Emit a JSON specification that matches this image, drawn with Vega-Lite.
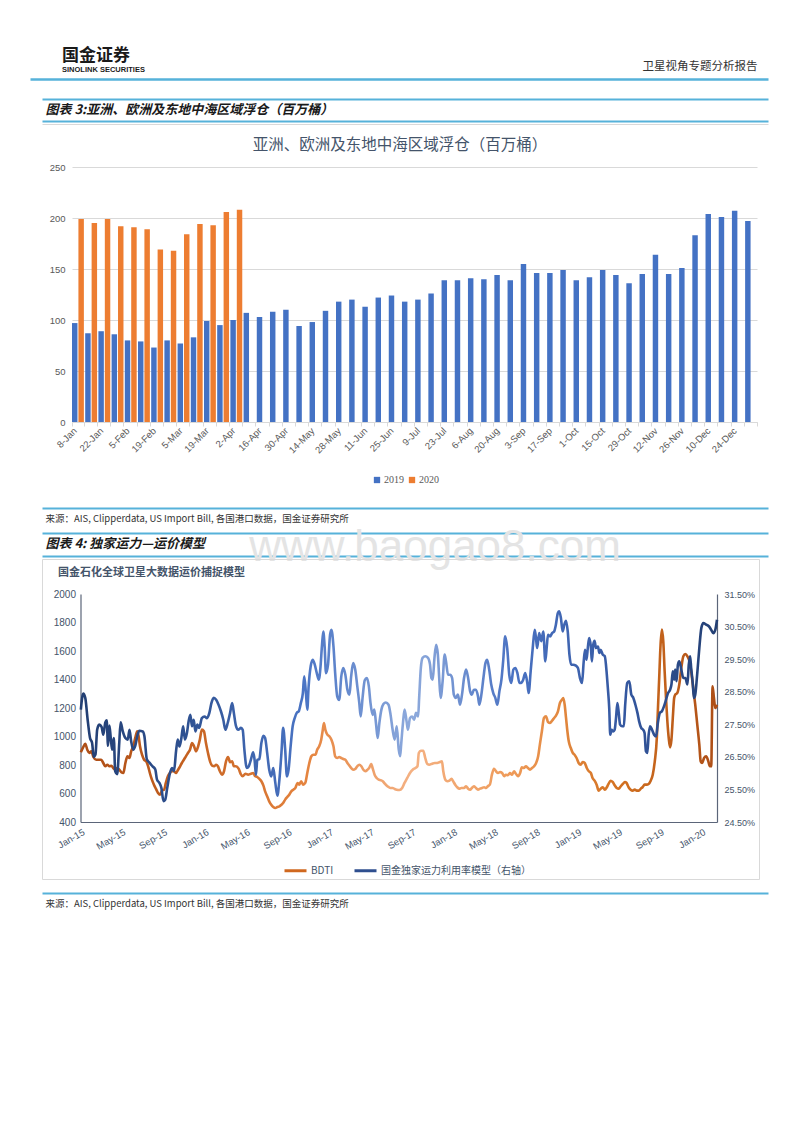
{
  "$schema": "https://vega.github.io/schema/vega-lite/v6.json",
  "padding": {"left": 30, "top": 46, "right": 5, "bottom": 5},
  "spacing": 0,
  "bounds": "flush",
  "background": "#ffffff",
  "config": {
    "view": {"stroke": null},
    "font": "Noto Sans CJK SC",
    "axis": {"labelFont": "Liberation Sans"}
  },
  "datasets": {
    "floating": [
      {"week": "8-Jan", "year": "2019", "value": 97}, {"week": "15-Jan", "year": "2019", "value": 87},
      {"week": "22-Jan", "year": "2019", "value": 89}, {"week": "29-Jan", "year": "2019", "value": 86},
      {"week": "5-Feb", "year": "2019", "value": 80}, {"week": "12-Feb", "year": "2019", "value": 79},
      {"week": "19-Feb", "year": "2019", "value": 73}, {"week": "26-Feb", "year": "2019", "value": 80},
      {"week": "5-Mar", "year": "2019", "value": 77}, {"week": "12-Mar", "year": "2019", "value": 83},
      {"week": "19-Mar", "year": "2019", "value": 99}, {"week": "26-Mar", "year": "2019", "value": 95},
      {"week": "2-Apr", "year": "2019", "value": 100}, {"week": "9-Apr", "year": "2019", "value": 107},
      {"week": "16-Apr", "year": "2019", "value": 103}, {"week": "23-Apr", "year": "2019", "value": 108},
      {"week": "30-Apr", "year": "2019", "value": 110}, {"week": "7-May", "year": "2019", "value": 94},
      {"week": "14-May", "year": "2019", "value": 98}, {"week": "21-May", "year": "2019", "value": 109},
      {"week": "28-May", "year": "2019", "value": 118}, {"week": "4-Jun", "year": "2019", "value": 120},
      {"week": "11-Jun", "year": "2019", "value": 113}, {"week": "18-Jun", "year": "2019", "value": 122},
      {"week": "25-Jun", "year": "2019", "value": 124}, {"week": "2-Jul", "year": "2019", "value": 118},
      {"week": "9-Jul", "year": "2019", "value": 120}, {"week": "16-Jul", "year": "2019", "value": 126},
      {"week": "23-Jul", "year": "2019", "value": 139}, {"week": "30-Jul", "year": "2019", "value": 139},
      {"week": "6-Aug", "year": "2019", "value": 141}, {"week": "13-Aug", "year": "2019", "value": 140},
      {"week": "20-Aug", "year": "2019", "value": 144}, {"week": "27-Aug", "year": "2019", "value": 139},
      {"week": "3-Sep", "year": "2019", "value": 155}, {"week": "10-Sep", "year": "2019", "value": 146},
      {"week": "17-Sep", "year": "2019", "value": 146}, {"week": "24-Sep", "year": "2019", "value": 149},
      {"week": "1-Oct", "year": "2019", "value": 139}, {"week": "8-Oct", "year": "2019", "value": 142},
      {"week": "15-Oct", "year": "2019", "value": 149}, {"week": "22-Oct", "year": "2019", "value": 144},
      {"week": "29-Oct", "year": "2019", "value": 136}, {"week": "5-Nov", "year": "2019", "value": 145},
      {"week": "12-Nov", "year": "2019", "value": 164}, {"week": "19-Nov", "year": "2019", "value": 145},
      {"week": "26-Nov", "year": "2019", "value": 151}, {"week": "3-Dec", "year": "2019", "value": 183},
      {"week": "10-Dec", "year": "2019", "value": 204}, {"week": "17-Dec", "year": "2019", "value": 201},
      {"week": "24-Dec", "year": "2019", "value": 207}, {"week": "31-Dec", "year": "2019", "value": 197},
      {"week": "8-Jan", "year": "2020", "value": 199}, {"week": "15-Jan", "year": "2020", "value": 195},
      {"week": "22-Jan", "year": "2020", "value": 199}, {"week": "29-Jan", "year": "2020", "value": 192},
      {"week": "5-Feb", "year": "2020", "value": 191}, {"week": "12-Feb", "year": "2020", "value": 189},
      {"week": "19-Feb", "year": "2020", "value": 169}, {"week": "26-Feb", "year": "2020", "value": 168},
      {"week": "5-Mar", "year": "2020", "value": 184}, {"week": "12-Mar", "year": "2020", "value": 194},
      {"week": "19-Mar", "year": "2020", "value": 193}, {"week": "26-Mar", "year": "2020", "value": 206},
      {"week": "2-Apr", "year": "2020", "value": 208}
    ],
    "bdti": [
      {"date":"2015-01-02","bdti":889},{"date":"2015-01-09","bdti":926},{"date":"2015-01-15","bdti":949},{"date":"2015-01-21","bdti":907},
      {"date":"2015-01-27","bdti":884},{"date":"2015-02-02","bdti":896},{"date":"2015-02-08","bdti":856},{"date":"2015-02-16","bdti":837},
      {"date":"2015-02-24","bdti":837},{"date":"2015-03-03","bdti":837},{"date":"2015-03-09","bdti":814},{"date":"2015-03-15","bdti":791},
      {"date":"2015-03-21","bdti":802},{"date":"2015-03-27","bdti":791},{"date":"2015-04-02","bdti":795},{"date":"2015-04-07","bdti":779},
      {"date":"2015-04-13","bdti":767},{"date":"2015-04-19","bdti":779},{"date":"2015-04-25","bdti":767},{"date":"2015-05-01","bdti":749},
      {"date":"2015-05-07","bdti":744},{"date":"2015-05-13","bdti":814},{"date":"2015-05-19","bdti":861},{"date":"2015-05-25","bdti":849},
      {"date":"2015-05-30","bdti":896},{"date":"2015-06-05","bdti":931},{"date":"2015-06-11","bdti":990},{"date":"2015-06-17","bdti":1037},
      {"date":"2015-06-21","bdti":1001},{"date":"2015-06-25","bdti":931},{"date":"2015-07-01","bdti":872},{"date":"2015-07-07","bdti":837},
      {"date":"2015-07-13","bdti":826},{"date":"2015-07-19","bdti":791},{"date":"2015-07-24","bdti":744},{"date":"2015-07-30","bdti":697},
      {"date":"2015-08-05","bdti":662},{"date":"2015-08-11","bdti":632},{"date":"2015-08-17","bdti":604},{"date":"2015-08-23","bdti":592},
      {"date":"2015-08-29","bdti":622},{"date":"2015-09-04","bdti":627},{"date":"2015-09-09","bdti":674},{"date":"2015-09-15","bdti":721},
      {"date":"2015-09-21","bdti":744},{"date":"2015-09-27","bdti":756},{"date":"2015-10-03","bdti":756},{"date":"2015-10-09","bdti":744},
      {"date":"2015-10-15","bdti":767},{"date":"2015-10-21","bdti":791},{"date":"2015-10-26","bdti":814},{"date":"2015-11-01","bdti":837},
      {"date":"2015-11-07","bdti":861},{"date":"2015-11-13","bdti":884},{"date":"2015-11-19","bdti":907},{"date":"2015-11-25","bdti":954},
      {"date":"2015-12-01","bdti":931},{"date":"2015-12-07","bdti":896},{"date":"2015-12-13","bdti":931},{"date":"2015-12-18","bdti":978},
      {"date":"2015-12-24","bdti":1048},{"date":"2015-12-30","bdti":1037},{"date":"2016-01-05","bdti":954},{"date":"2016-01-11","bdti":884},
      {"date":"2016-01-17","bdti":826},{"date":"2016-01-23","bdti":795},{"date":"2016-01-29","bdti":791},{"date":"2016-02-04","bdti":802},
      {"date":"2016-02-09","bdti":791},{"date":"2016-02-15","bdti":756},{"date":"2016-02-21","bdti":732},{"date":"2016-02-27","bdti":756},
      {"date":"2016-03-04","bdti":826},{"date":"2016-03-10","bdti":856},{"date":"2016-03-16","bdti":819},{"date":"2016-03-22","bdti":826},
      {"date":"2016-03-27","bdti":791},{"date":"2016-04-02","bdti":791},{"date":"2016-04-10","bdti":775},{"date":"2016-04-16","bdti":738},
      {"date":"2016-04-22","bdti":721},{"date":"2016-04-30","bdti":739},{"date":"2016-05-08","bdti":732},{"date":"2016-05-16","bdti":739},
      {"date":"2016-05-23","bdti":744},{"date":"2016-05-29","bdti":721},{"date":"2016-06-04","bdti":716},{"date":"2016-06-10","bdti":702},
      {"date":"2016-06-16","bdti":686},{"date":"2016-06-22","bdti":655},{"date":"2016-06-27","bdti":615},{"date":"2016-07-03","bdti":580},
      {"date":"2016-07-09","bdti":545},{"date":"2016-07-15","bdti":521},{"date":"2016-07-21","bdti":505},{"date":"2016-07-27","bdti":498},
      {"date":"2016-08-02","bdti":505},{"date":"2016-08-08","bdti":510},{"date":"2016-08-14","bdti":521},{"date":"2016-08-19","bdti":533},
      {"date":"2016-08-25","bdti":557},{"date":"2016-08-31","bdti":575},{"date":"2016-09-06","bdti":592},{"date":"2016-09-12","bdti":615},
      {"date":"2016-09-18","bdti":627},{"date":"2016-09-24","bdti":639},{"date":"2016-09-30","bdti":674},{"date":"2016-10-05","bdti":662},
      {"date":"2016-10-11","bdti":686},{"date":"2016-10-17","bdti":662},{"date":"2016-10-23","bdti":674},{"date":"2016-10-29","bdti":744},
      {"date":"2016-11-04","bdti":814},{"date":"2016-11-10","bdti":861},{"date":"2016-11-16","bdti":872},{"date":"2016-11-22","bdti":872},
      {"date":"2016-11-27","bdti":907},{"date":"2016-12-03","bdti":931},{"date":"2016-12-09","bdti":978},{"date":"2016-12-13","bdti":1037},
      {"date":"2016-12-17","bdti":1095},{"date":"2016-12-21","bdti":1048},{"date":"2016-12-27","bdti":1013},{"date":"2017-01-02","bdti":1001},
      {"date":"2017-01-08","bdti":978},{"date":"2017-01-14","bdti":931},{"date":"2017-01-19","bdti":861},{"date":"2017-01-25","bdti":849},
      {"date":"2017-01-31","bdti":856},{"date":"2017-02-06","bdti":849},{"date":"2017-02-12","bdti":842},{"date":"2017-02-18","bdti":837},
      {"date":"2017-02-24","bdti":814},{"date":"2017-03-02","bdti":795},{"date":"2017-03-07","bdti":779},{"date":"2017-03-13","bdti":767},
      {"date":"2017-03-19","bdti":772},{"date":"2017-03-25","bdti":791},{"date":"2017-03-31","bdti":802},{"date":"2017-04-06","bdti":791},
      {"date":"2017-04-12","bdti":767},{"date":"2017-04-18","bdti":756},{"date":"2017-04-24","bdti":767},{"date":"2017-04-29","bdti":779},
      {"date":"2017-05-05","bdti":807},{"date":"2017-05-09","bdti":779},{"date":"2017-05-15","bdti":732},{"date":"2017-05-21","bdti":709},
      {"date":"2017-05-27","bdti":697},{"date":"2017-06-02","bdti":693},{"date":"2017-06-08","bdti":686},{"date":"2017-06-14","bdti":669},
      {"date":"2017-06-20","bdti":655},{"date":"2017-06-25","bdti":646},{"date":"2017-07-01","bdti":639},{"date":"2017-07-07","bdti":639},
      {"date":"2017-07-13","bdti":632},{"date":"2017-07-19","bdti":627},{"date":"2017-07-27","bdti":625},{"date":"2017-08-04","bdti":639},
      {"date":"2017-08-11","bdti":674},{"date":"2017-08-19","bdti":709},{"date":"2017-08-27","bdti":744},{"date":"2017-09-04","bdti":767},
      {"date":"2017-09-12","bdti":779},{"date":"2017-09-18","bdti":791},{"date":"2017-09-22","bdti":884},{"date":"2017-09-28","bdti":900},
      {"date":"2017-10-05","bdti":900},{"date":"2017-10-11","bdti":849},{"date":"2017-10-17","bdti":807},{"date":"2017-10-23","bdti":802},
      {"date":"2017-10-31","bdti":809},{"date":"2017-11-08","bdti":814},{"date":"2017-11-15","bdti":814},{"date":"2017-11-23","bdti":821},
      {"date":"2017-11-29","bdti":826},{"date":"2017-12-03","bdti":756},{"date":"2017-12-09","bdti":697},{"date":"2017-12-15","bdti":686},
      {"date":"2017-12-21","bdti":690},{"date":"2017-12-27","bdti":704},{"date":"2018-01-01","bdti":686},{"date":"2018-01-07","bdti":662},
      {"date":"2018-01-13","bdti":644},{"date":"2018-01-19","bdti":634},{"date":"2018-01-25","bdti":639},{"date":"2018-02-02","bdti":639},
      {"date":"2018-02-08","bdti":651},{"date":"2018-02-14","bdti":634},{"date":"2018-02-20","bdti":627},{"date":"2018-02-25","bdti":639},
      {"date":"2018-03-03","bdti":651},{"date":"2018-03-09","bdti":639},{"date":"2018-03-15","bdti":627},{"date":"2018-03-21","bdti":634},
      {"date":"2018-03-27","bdti":639},{"date":"2018-04-02","bdti":644},{"date":"2018-04-08","bdti":639},{"date":"2018-04-13","bdti":651},
      {"date":"2018-04-19","bdti":662},{"date":"2018-04-25","bdti":732},{"date":"2018-05-01","bdti":774},{"date":"2018-05-07","bdti":756},
      {"date":"2018-05-13","bdti":744},{"date":"2018-05-19","bdti":751},{"date":"2018-05-25","bdti":744},{"date":"2018-05-31","bdti":721},
      {"date":"2018-06-05","bdti":732},{"date":"2018-06-11","bdti":728},{"date":"2018-06-17","bdti":744},{"date":"2018-06-23","bdti":732},
      {"date":"2018-06-29","bdti":756},{"date":"2018-07-05","bdti":737},{"date":"2018-07-11","bdti":721},{"date":"2018-07-17","bdti":744},
      {"date":"2018-07-22","bdti":784},{"date":"2018-07-28","bdti":779},{"date":"2018-08-03","bdti":791},{"date":"2018-08-09","bdti":779},
      {"date":"2018-08-15","bdti":767},{"date":"2018-08-21","bdti":779},{"date":"2018-08-27","bdti":791},{"date":"2018-09-02","bdti":814},
      {"date":"2018-09-08","bdti":861},{"date":"2018-09-13","bdti":943},{"date":"2018-09-19","bdti":1037},{"date":"2018-09-25","bdti":1130},
      {"date":"2018-10-01","bdti":1142},{"date":"2018-10-07","bdti":1102},{"date":"2018-10-13","bdti":1095},{"date":"2018-10-19","bdti":1111},
      {"date":"2018-10-25","bdti":1130},{"date":"2018-10-30","bdti":1145},{"date":"2018-11-05","bdti":1175},{"date":"2018-11-11","bdti":1235},
      {"date":"2018-11-17","bdti":1258},{"date":"2018-11-21","bdti":1270},{"date":"2018-11-25","bdti":1223},{"date":"2018-11-29","bdti":1130},
      {"date":"2018-12-03","bdti":1037},{"date":"2018-12-07","bdti":966},{"date":"2018-12-13","bdti":919},{"date":"2018-12-19","bdti":884},
      {"date":"2018-12-24","bdti":872},{"date":"2018-12-30","bdti":849},{"date":"2019-01-05","bdti":814},{"date":"2019-01-11","bdti":802},
      {"date":"2019-01-17","bdti":821},{"date":"2019-01-23","bdti":814},{"date":"2019-01-29","bdti":779},{"date":"2019-02-04","bdti":756},
      {"date":"2019-02-10","bdti":744},{"date":"2019-02-15","bdti":709},{"date":"2019-02-21","bdti":690},{"date":"2019-02-27","bdti":662},
      {"date":"2019-03-05","bdti":620},{"date":"2019-03-11","bdti":634},{"date":"2019-03-17","bdti":644},{"date":"2019-03-23","bdti":627},
      {"date":"2019-03-29","bdti":644},{"date":"2019-04-03","bdti":667},{"date":"2019-04-09","bdti":690},{"date":"2019-04-15","bdti":681},
      {"date":"2019-04-21","bdti":658},{"date":"2019-04-27","bdti":639},{"date":"2019-05-03","bdti":634},{"date":"2019-05-09","bdti":651},
      {"date":"2019-05-15","bdti":667},{"date":"2019-05-21","bdti":681},{"date":"2019-05-26","bdti":674},{"date":"2019-06-01","bdti":644},
      {"date":"2019-06-07","bdti":627},{"date":"2019-06-13","bdti":620},{"date":"2019-06-19","bdti":627},{"date":"2019-06-25","bdti":620},
      {"date":"2019-07-01","bdti":620},{"date":"2019-07-07","bdti":634},{"date":"2019-07-12","bdti":644},{"date":"2019-07-18","bdti":662},
      {"date":"2019-07-24","bdti":662},{"date":"2019-07-30","bdti":667},{"date":"2019-08-05","bdti":690},{"date":"2019-08-11","bdti":732},
      {"date":"2019-08-17","bdti":826},{"date":"2019-08-23","bdti":990},{"date":"2019-08-26","bdti":1177},{"date":"2019-08-30","bdti":1411},
      {"date":"2019-09-03","bdti":1644},{"date":"2019-09-07","bdti":1750},{"date":"2019-09-11","bdti":1668},{"date":"2019-09-15","bdti":1458},
      {"date":"2019-09-19","bdti":1270},{"date":"2019-09-23","bdti":1107},{"date":"2019-09-27","bdti":990},{"date":"2019-10-01","bdti":924},
      {"date":"2019-10-05","bdti":978},{"date":"2019-10-09","bdti":1130},{"date":"2019-10-13","bdti":1270},{"date":"2019-10-16","bdti":1293},
      {"date":"2019-10-22","bdti":1305},{"date":"2019-10-28","bdti":1364},{"date":"2019-11-03","bdti":1481},{"date":"2019-11-09","bdti":1563},
      {"date":"2019-11-15","bdti":1579},{"date":"2019-11-21","bdti":1563},{"date":"2019-11-27","bdti":1528},{"date":"2019-12-02","bdti":1458},
      {"date":"2019-12-08","bdti":1340},{"date":"2019-12-14","bdti":1223},{"date":"2019-12-20","bdti":1083},{"date":"2019-12-26","bdti":943},
      {"date":"2019-12-30","bdti":826},{"date":"2020-01-03","bdti":814},{"date":"2020-01-09","bdti":849},{"date":"2020-01-15","bdti":861},
      {"date":"2020-01-21","bdti":830},{"date":"2020-01-26","bdti":791},{"date":"2020-01-30","bdti":791},{"date":"2020-02-03","bdti":1352},
      {"date":"2020-02-07","bdti":1270},{"date":"2020-02-11","bdti":1200},{"date":"2020-02-16","bdti":1223}
    ],
    "model": [
      {"date":"2015-01-02","rate":27.95},{"date":"2015-01-09","rate":28.44},{"date":"2015-01-15","rate":28.31},{"date":"2015-01-22","rate":27.64},
      {"date":"2015-01-29","rate":27.08},{"date":"2015-02-04","rate":26.93},{"date":"2015-02-09","rate":26.5},{"date":"2015-02-14","rate":26.57},
      {"date":"2015-02-19","rate":27.33},{"date":"2015-02-25","rate":27.49},{"date":"2015-03-04","rate":27.42},{"date":"2015-03-09","rate":27.18},
      {"date":"2015-03-15","rate":27.56},{"date":"2015-03-19","rate":27.62},{"date":"2015-03-23","rate":26.84},{"date":"2015-03-27","rate":27.46},
      {"date":"2015-03-31","rate":27.08},{"date":"2015-04-04","rate":26.72},{"date":"2015-04-09","rate":27.08},{"date":"2015-04-13","rate":26.06},
      {"date":"2015-04-19","rate":25.97},{"date":"2015-04-25","rate":26.93},{"date":"2015-04-29","rate":27.56},{"date":"2015-05-05","rate":27.3},
      {"date":"2015-05-13","rate":27.08},{"date":"2015-05-20","rate":27.03},{"date":"2015-05-25","rate":27.33},{"date":"2015-05-30","rate":26.98},
      {"date":"2015-06-05","rate":26.72},{"date":"2015-06-11","rate":26.84},{"date":"2015-06-18","rate":27.18},{"date":"2015-06-23","rate":27.3},
      {"date":"2015-07-03","rate":27.28},{"date":"2015-07-08","rate":27.13},{"date":"2015-07-15","rate":26.43},{"date":"2015-07-22","rate":26.33},
      {"date":"2015-08-01","rate":26.21},{"date":"2015-08-09","rate":26.11},{"date":"2015-08-14","rate":25.8},{"date":"2015-08-21","rate":25.7},
      {"date":"2015-08-27","rate":25.54},{"date":"2015-09-02","rate":25.14},{"date":"2015-09-07","rate":25.18},{"date":"2015-09-13","rate":25.54},
      {"date":"2015-09-21","rate":26.0},{"date":"2015-09-27","rate":26.16},{"date":"2015-10-03","rate":26.06},{"date":"2015-10-09","rate":26.67},
      {"date":"2015-10-14","rate":27.03},{"date":"2015-10-19","rate":26.82},{"date":"2015-10-24","rate":27.03},{"date":"2015-10-30","rate":27.44},
      {"date":"2015-11-04","rate":27.03},{"date":"2015-11-10","rate":27.23},{"date":"2015-11-15","rate":27.59},{"date":"2015-11-20","rate":27.79},
      {"date":"2015-11-25","rate":27.44},{"date":"2015-11-30","rate":27.64},{"date":"2015-12-05","rate":27.28},{"date":"2015-12-11","rate":27.49},
      {"date":"2015-12-16","rate":27.39},{"date":"2015-12-24","rate":27.69},{"date":"2016-01-01","rate":27.74},{"date":"2016-01-08","rate":27.69},
      {"date":"2016-01-15","rate":27.85},{"date":"2016-01-21","rate":28.15},{"date":"2016-01-28","rate":28.31},{"date":"2016-02-04","rate":28.25},
      {"date":"2016-02-11","rate":28.1},{"date":"2016-02-18","rate":27.9},{"date":"2016-02-25","rate":27.64},{"date":"2016-03-02","rate":27.33},
      {"date":"2016-03-09","rate":27.54},{"date":"2016-03-16","rate":27.85},{"date":"2016-03-22","rate":28.15},{"date":"2016-03-27","rate":27.85},
      {"date":"2016-04-02","rate":27.46},{"date":"2016-04-09","rate":27.33},{"date":"2016-04-17","rate":27.39},{"date":"2016-04-22","rate":27.33},
      {"date":"2016-04-27","rate":26.72},{"date":"2016-05-04","rate":26.16},{"date":"2016-05-10","rate":26.21},{"date":"2016-05-16","rate":26.41},
      {"date":"2016-05-23","rate":26.64},{"date":"2016-05-27","rate":26.41},{"date":"2016-05-31","rate":25.95},{"date":"2016-06-04","rate":26.41},
      {"date":"2016-06-10","rate":26.43},{"date":"2016-06-16","rate":26.93},{"date":"2016-06-22","rate":27.15},{"date":"2016-06-27","rate":27.08},
      {"date":"2016-07-03","rate":26.62},{"date":"2016-07-09","rate":26.11},{"date":"2016-07-15","rate":25.9},{"date":"2016-07-21","rate":26.16},
      {"date":"2016-07-27","rate":25.7},{"date":"2016-08-02","rate":25.31},{"date":"2016-08-08","rate":25.8},{"date":"2016-08-14","rate":26.62},
      {"date":"2016-08-19","rate":27.39},{"date":"2016-08-25","rate":26.72},{"date":"2016-08-30","rate":25.9},{"date":"2016-09-04","rate":26.11},
      {"date":"2016-09-10","rate":26.82},{"date":"2016-09-16","rate":27.44},{"date":"2016-09-22","rate":27.69},{"date":"2016-09-28","rate":27.85},
      {"date":"2016-10-04","rate":27.9},{"date":"2016-10-10","rate":28.15},{"date":"2016-10-16","rate":28.46},{"date":"2016-10-20","rate":28.97},
      {"date":"2016-10-25","rate":28.46},{"date":"2016-10-29","rate":27.95},{"date":"2016-11-02","rate":28.67},{"date":"2016-11-08","rate":29.28},
      {"date":"2016-11-14","rate":29.48},{"date":"2016-11-20","rate":29.33},{"date":"2016-11-26","rate":29.07},{"date":"2016-12-02","rate":28.87},
      {"date":"2016-12-07","rate":29.28},{"date":"2016-12-11","rate":29.89},{"date":"2016-12-15","rate":30.35},{"date":"2016-12-19","rate":29.89},
      {"date":"2016-12-23","rate":29.07},{"date":"2016-12-29","rate":29.33},{"date":"2017-01-04","rate":30.25},{"date":"2017-01-08","rate":30.4},
      {"date":"2017-01-14","rate":29.89},{"date":"2017-01-19","rate":29.07},{"date":"2017-01-25","rate":28.36},{"date":"2017-01-31","rate":28.25},
      {"date":"2017-02-06","rate":28.97},{"date":"2017-02-12","rate":29.23},{"date":"2017-02-18","rate":29.02},{"date":"2017-02-24","rate":28.56},
      {"date":"2017-03-02","rate":28.41},{"date":"2017-03-07","rate":28.97},{"date":"2017-03-13","rate":29.38},{"date":"2017-03-19","rate":29.18},
      {"date":"2017-03-25","rate":28.67},{"date":"2017-03-31","rate":28.15},{"date":"2017-04-04","rate":27.74},{"date":"2017-04-10","rate":28.36},
      {"date":"2017-04-16","rate":28.85},{"date":"2017-04-22","rate":28.92},{"date":"2017-04-28","rate":28.67},{"date":"2017-05-03","rate":28.15},
      {"date":"2017-05-09","rate":27.79},{"date":"2017-05-14","rate":27.95},{"date":"2017-05-19","rate":27.54},{"date":"2017-05-24","rate":27.08},
      {"date":"2017-05-29","rate":27.54},{"date":"2017-06-04","rate":27.95},{"date":"2017-06-10","rate":28.12},{"date":"2017-06-17","rate":28.17},
      {"date":"2017-06-25","rate":28.1},{"date":"2017-07-01","rate":27.79},{"date":"2017-07-07","rate":27.33},{"date":"2017-07-13","rate":27.03},
      {"date":"2017-07-19","rate":27.44},{"date":"2017-07-25","rate":26.72},{"date":"2017-07-29","rate":26.52},{"date":"2017-08-01","rate":26.87},
      {"date":"2017-08-06","rate":27.49},{"date":"2017-08-11","rate":27.95},{"date":"2017-08-17","rate":27.59},{"date":"2017-08-21","rate":27.33},
      {"date":"2017-08-27","rate":27.69},{"date":"2017-09-02","rate":27.74},{"date":"2017-09-08","rate":27.64},{"date":"2017-09-14","rate":27.85},
      {"date":"2017-09-20","rate":27.74},{"date":"2017-09-23","rate":28.31},{"date":"2017-09-28","rate":29.23},{"date":"2017-10-03","rate":29.54},
      {"date":"2017-10-11","rate":29.59},{"date":"2017-10-19","rate":29.54},{"date":"2017-10-25","rate":29.33},{"date":"2017-10-29","rate":28.92},
      {"date":"2017-11-02","rate":28.87},{"date":"2017-11-07","rate":29.54},{"date":"2017-11-12","rate":29.94},{"date":"2017-11-17","rate":29.64},
      {"date":"2017-11-21","rate":28.92},{"date":"2017-11-25","rate":28.31},{"date":"2017-12-01","rate":28.82},{"date":"2017-12-07","rate":29.64},
      {"date":"2017-12-11","rate":29.43},{"date":"2017-12-17","rate":29.02},{"date":"2017-12-23","rate":29.02},{"date":"2017-12-29","rate":28.92},
      {"date":"2018-01-03","rate":28.41},{"date":"2018-01-09","rate":28.31},{"date":"2018-01-15","rate":28.41},{"date":"2018-01-21","rate":28.1},
      {"date":"2018-01-27","rate":28.41},{"date":"2018-02-02","rate":28.92},{"date":"2018-02-08","rate":29.18},{"date":"2018-02-14","rate":28.92},
      {"date":"2018-02-20","rate":28.51},{"date":"2018-02-25","rate":28.41},{"date":"2018-03-03","rate":28.56},{"date":"2018-03-09","rate":28.56},
      {"date":"2018-03-15","rate":28.36},{"date":"2018-03-19","rate":28.1},{"date":"2018-03-25","rate":28.41},{"date":"2018-03-31","rate":28.92},
      {"date":"2018-04-06","rate":29.38},{"date":"2018-04-11","rate":29.48},{"date":"2018-04-17","rate":29.18},{"date":"2018-04-23","rate":28.72},
      {"date":"2018-04-29","rate":28.46},{"date":"2018-05-05","rate":28.31},{"date":"2018-05-11","rate":28.1},{"date":"2018-05-17","rate":28.51},
      {"date":"2018-05-23","rate":28.87},{"date":"2018-05-28","rate":29.43},{"date":"2018-06-03","rate":30.2},{"date":"2018-06-09","rate":29.84},
      {"date":"2018-06-15","rate":29.02},{"date":"2018-06-21","rate":28.77},{"date":"2018-06-27","rate":29.18},{"date":"2018-07-03","rate":29.23},
      {"date":"2018-07-09","rate":29.07},{"date":"2018-07-15","rate":28.77},{"date":"2018-07-20","rate":28.77},{"date":"2018-07-26","rate":28.87},
      {"date":"2018-08-01","rate":29.07},{"date":"2018-08-07","rate":28.77},{"date":"2018-08-11","rate":28.46},{"date":"2018-08-17","rate":29.13},
      {"date":"2018-08-23","rate":29.84},{"date":"2018-08-29","rate":30.4},{"date":"2018-09-02","rate":30.1},{"date":"2018-09-05","rate":29.84},
      {"date":"2018-09-11","rate":30.3},{"date":"2018-09-17","rate":30.05},{"date":"2018-09-23","rate":30.35},{"date":"2018-09-29","rate":29.43},
      {"date":"2018-10-03","rate":29.84},{"date":"2018-10-07","rate":30.25},{"date":"2018-10-13","rate":30.2},{"date":"2018-10-19","rate":30.3},
      {"date":"2018-10-25","rate":30.35},{"date":"2018-10-30","rate":30.55},{"date":"2018-11-05","rate":30.92},{"date":"2018-11-09","rate":30.97},
      {"date":"2018-11-14","rate":30.76},{"date":"2018-11-19","rate":30.35},{"date":"2018-11-24","rate":30.56},{"date":"2018-11-29","rate":30.68},
      {"date":"2018-12-04","rate":30.35},{"date":"2018-12-09","rate":29.64},{"date":"2018-12-14","rate":29.33},{"date":"2018-12-20","rate":29.33},
      {"date":"2018-12-28","rate":29.3},{"date":"2019-01-03","rate":29.23},{"date":"2019-01-09","rate":28.92},{"date":"2019-01-15","rate":28.77},
      {"date":"2019-01-20","rate":29.43},{"date":"2019-01-24","rate":29.79},{"date":"2019-01-28","rate":29.48},{"date":"2019-02-01","rate":29.84},
      {"date":"2019-02-05","rate":30.15},{"date":"2019-02-10","rate":29.89},{"date":"2019-02-13","rate":29.43},{"date":"2019-02-17","rate":29.94},
      {"date":"2019-02-21","rate":30.06},{"date":"2019-02-25","rate":29.84},{"date":"2019-03-03","rate":29.89},{"date":"2019-03-07","rate":29.69},
      {"date":"2019-03-11","rate":29.79},{"date":"2019-03-17","rate":29.64},{"date":"2019-03-23","rate":29.59},{"date":"2019-03-29","rate":29.02},
      {"date":"2019-04-01","rate":28.61},{"date":"2019-04-05","rate":28.0},{"date":"2019-04-08","rate":27.18},{"date":"2019-04-12","rate":27.33},
      {"date":"2019-04-17","rate":27.28},{"date":"2019-04-21","rate":27.33},{"date":"2019-04-25","rate":27.69},{"date":"2019-04-29","rate":28.15},
      {"date":"2019-05-03","rate":27.85},{"date":"2019-05-07","rate":27.49},{"date":"2019-05-13","rate":27.44},{"date":"2019-05-18","rate":27.44},
      {"date":"2019-05-22","rate":28.1},{"date":"2019-05-28","rate":28.77},{"date":"2019-06-03","rate":28.82},{"date":"2019-06-09","rate":28.41},
      {"date":"2019-06-15","rate":28.31},{"date":"2019-06-21","rate":28.1},{"date":"2019-06-27","rate":27.85},{"date":"2019-07-02","rate":27.59},
      {"date":"2019-07-08","rate":27.39},{"date":"2019-07-14","rate":27.33},{"date":"2019-07-18","rate":27.23},{"date":"2019-07-22","rate":26.67},
      {"date":"2019-07-26","rate":26.62},{"date":"2019-07-30","rate":27.18},{"date":"2019-08-03","rate":27.44},{"date":"2019-08-09","rate":27.33},
      {"date":"2019-08-15","rate":27.18},{"date":"2019-08-21","rate":27.13},{"date":"2019-08-26","rate":27.54},{"date":"2019-09-01","rate":27.85},
      {"date":"2019-09-07","rate":27.9},{"date":"2019-09-13","rate":28.05},{"date":"2019-09-19","rate":28.25},{"date":"2019-09-25","rate":28.46},
      {"date":"2019-10-01","rate":28.56},{"date":"2019-10-05","rate":28.72},{"date":"2019-10-09","rate":29.13},{"date":"2019-10-13","rate":28.87},
      {"date":"2019-10-16","rate":29.18},{"date":"2019-10-20","rate":28.82},{"date":"2019-10-24","rate":29.33},{"date":"2019-10-28","rate":29.43},
      {"date":"2019-11-03","rate":29.18},{"date":"2019-11-09","rate":28.92},{"date":"2019-11-15","rate":28.92},{"date":"2019-11-21","rate":28.72},
      {"date":"2019-11-25","rate":29.33},{"date":"2019-11-29","rate":29.59},{"date":"2019-12-02","rate":29.23},{"date":"2019-12-07","rate":28.72},
      {"date":"2019-12-10","rate":28.31},{"date":"2019-12-14","rate":28.41},{"date":"2019-12-20","rate":29.07},{"date":"2019-12-26","rate":29.84},
      {"date":"2020-01-01","rate":30.46},{"date":"2020-01-07","rate":30.61},{"date":"2020-01-15","rate":30.56},{"date":"2020-01-23","rate":30.51},
      {"date":"2020-01-30","rate":30.4},{"date":"2020-02-05","rate":30.3},{"date":"2020-02-11","rate":30.4},{"date":"2020-02-16","rate":30.71}
    ]
  },
  "vconcat": [
    {
      "width": 726,
      "height": 1,
      "data": {"values": [{}]},
      "title": {
        "text": "国金证券",
        "subtitle": "SINOLINK SECURITIES",
        "anchor": "start",
        "frame": "group",
        "dx": 20,
        "offset": -14,
        "font": "Noto Sans CJK SC",
        "fontSize": 17,
        "fontWeight": "bold",
        "color": "#1a1a1a",
        "subtitleFont": "Liberation Sans",
        "subtitleFontSize": 7.5,
        "subtitleFontWeight": "bold",
        "subtitleColor": "#1a1a1a",
        "subtitlePadding": 1
      },
      "mark": {"type": "rule", "opacity": 0},
      "encoding": {
        "x": {
          "datum": 0,
          "type": "quantitative",
          "scale": {"domain": [0, 1], "range": [-12, 726], "nice": false, "zero": false},
          "axis": {
            "orient": "bottom",
            "domainColor": "#56b2da",
            "domainWidth": 2.5,
            "labels": false,
            "ticks": false,
            "grid": false,
            "title": "卫星视角专题分析报告",
            "titleX": 715,
            "titleY": -13,
            "titleAlign": "right",
            "titleBaseline": "middle",
            "titleFont": "Noto Sans CJK SC",
            "titleFontSize": 11.5,
            "titleFontWeight": "normal",
            "titleColor": "#333333"
          }
        }
      }
    },
    {
      "width": 726,
      "height": 88,
      "data": {"values": [{}]},
      "mark": {"type": "rule", "opacity": 0},
      "encoding": {
        "y": {
          "datum": 0,
          "type": "quantitative",
          "scale": {"domain": [0, 88], "nice": false, "zero": false},
          "axis": {
            "values": [68, 46, 43],
            "grid": true,
            "gridColor": {"condition": {"test": "datum.value == 43", "value": "#d9d9d9"}, "value": "#56b2da"},
            "gridWidth": {"condition": {"test": "datum.value == 43", "value": 1}, "value": 2},
            "domain": false,
            "ticks": false,
            "labels": false,
            "title": "图表 3:亚洲、欧洲及东地中海区域浮仓（百万桶）",
            "titleAngle": 0,
            "titleX": 3,
            "titleY": 30,
            "titleAlign": "left",
            "titleBaseline": "middle",
            "titleFont": "Noto Sans CJK SC",
            "titleFontSize": 13,
            "titleFontWeight": "bold",
            "titleFontStyle": "italic",
            "titleColor": "#1a1a1a"
          }
        }
      }
    },
    {
      "width": 726,
      "height": 255,
      "data": {"name": "floating"},
      "title": {
        "text": "亚洲、欧洲及东地中海区域浮仓（百万桶）",
        "anchor": "middle",
        "frame": "group",
        "dx": -5,
        "offset": 9,
        "font": "Noto Sans CJK SC",
        "fontSize": 15.5,
        "fontWeight": "normal",
        "color": "#44546a"
      },
      "mark": {"type": "bar"},
      "encoding": {
        "x": {
          "field": "week",
          "type": "nominal",
          "sort": null,
          "scale": {"range": [30, 715], "paddingInner": 0.1, "paddingOuter": 0},
          "axis": {
            "title": null,
            "domainColor": "#d9d9d9",
            "tickColor": "#d9d9d9",
            "tickSize": 4,
            "tickBand": "extent",
            "labelAngle": -45,
            "labelAlign": "right",
            "labelBaseline": "middle",
            "labelPadding": 3,
            "labelOffset": -3,
            "labelFont": "Liberation Sans",
            "labelFontSize": 9.5,
            "labelColor": "#595959",
            "labelOverlap": false,
            "labelExpr": "indexof(['8-Jan','22-Jan','5-Feb','19-Feb','5-Mar','19-Mar','2-Apr','16-Apr','30-Apr','14-May','28-May','11-Jun','25-Jun','9-Jul','23-Jul','6-Aug','20-Aug','3-Sep','17-Sep','1-Oct','15-Oct','29-Oct','12-Nov','26-Nov','10-Dec','24-Dec'], datum.value) >= 0 ? datum.value : ''"
          }
        },
        "xOffset": {"field": "year", "type": "nominal", "scale": {"paddingInner": 0.15}},
        "y": {
          "field": "value",
          "type": "quantitative",
          "scale": {"domain": [0, 250], "nice": false},
          "axis": {
            "title": null,
            "values": [0, 50, 100, 150, 200, 250],
            "grid": true,
            "gridColor": "#d9d9d9",
            "domain": false,
            "ticks": false,
            "offset": -25,
            "labelPadding": 2,
            "labelFont": "Liberation Sans",
            "labelFontSize": 9.5,
            "labelColor": "#595959"
          }
        },
        "color": {
          "field": "year",
          "type": "nominal",
          "scale": {"domain": ["2019", "2020"], "range": ["#4472c4", "#ed7d31"]},
          "legend": {
            "orient": "none",
            "legendX": 330,
            "legendY": 397,
            "direction": "horizontal",
            "title": null,
            "symbolType": "square",
            "symbolSize": 40,
            "symbolStrokeWidth": 0,
            "labelFont": "Liberation Serif",
            "labelFontSize": 10,
            "labelColor": "#595959",
            "labelOffset": 2,
            "columnPadding": 3
          }
        }
      }
    },
    {
      "width": 726,
      "height": 137,
      "data": {"values": [{}]},
      "title": {
        "text": "www.baogao8.com",
        "orient": "bottom",
        "anchor": "middle",
        "frame": "group",
        "dx": 30,
        "offset": -33,
        "font": "Liberation Sans",
        "fontSize": 44,
        "fontWeight": "normal",
        "color": "#e4e4e4"
      },
      "mark": {"type": "rule", "opacity": 0},
      "encoding": {
        "x": {
          "datum": 0,
          "type": "quantitative",
          "scale": {"domain": [0, 1], "nice": false, "zero": false},
          "axis": {
            "domain": false,
            "ticks": false,
            "labels": false,
            "grid": false,
            "title": "图表 4: 独家运力—运价模型",
            "titleX": 3,
            "titleY": -16,
            "titleAlign": "left",
            "titleBaseline": "middle",
            "titleFont": "Noto Sans CJK SC",
            "titleFontSize": 13,
            "titleFontWeight": "bold",
            "titleFontStyle": "italic",
            "titleColor": "#1a1a1a"
          }
        },
        "y": {
          "datum": 0,
          "type": "quantitative",
          "scale": {"domain": [0, 137], "nice": false, "zero": false},
          "axis": {
            "values": [51, 26, 3],
            "grid": true,
            "gridColor": "#56b2da",
            "gridWidth": 2,
            "domain": false,
            "ticks": false,
            "labels": false,
            "title": "来源：AIS, Clipperdata, US Import Bill, 各国港口数据，国金证券研究所",
            "titleAngle": 0,
            "titleX": 3,
            "titleY": 96,
            "titleAlign": "left",
            "titleBaseline": "middle",
            "titleFont": "Noto Sans CJK SC",
            "titleFontSize": 9.5,
            "titleFontWeight": "normal",
            "titleColor": "#333333"
          }
        }
      }
    },
    {
      "width": 717,
      "height": 320,
      "view": {"stroke": "#d9d9d9", "strokeWidth": 1},
      "title": {
        "text": "国金石化全球卫星大数据运价捕捉模型",
        "anchor": "start",
        "frame": "group",
        "dx": 16,
        "offset": -19,
        "font": "Noto Sans CJK SC",
        "fontSize": 11,
        "fontWeight": "bold",
        "color": "#44546a"
      },
      "layer": [
        {
          "data": {"name": "bdti"},
          "mark": {
            "type": "line",
            "interpolate": "monotone",
            "strokeWidth": 2.6,
            "stroke": {
              "gradient": "linear", "x1": 0, "y1": 0, "x2": 1, "y2": 0,
              "stops": [
                {"offset": 0, "color": "#ad4e17"},
                {"offset": 0.15, "color": "#c25e1e"},
                {"offset": 0.35, "color": "#e4833e"},
                {"offset": 0.52, "color": "#f4b183"},
                {"offset": 0.68, "color": "#ee9a58"},
                {"offset": 0.85, "color": "#d2701f"},
                {"offset": 1, "color": "#ad4e17"}
              ]
            }
          },
          "encoding": {
            "x": {
              "field": "date",
              "type": "temporal",
              "scale": {"domain": [{"year": 2015, "month": 1, "date": 1}, {"year": 2020, "month": 2, "date": 16}], "range": [38.5, 675]},
              "axis": {
                "orient": "bottom",
                "offset": -57,
                "format": "%b-%y",
                "tickCount": {"interval": "month", "step": 4},
                "labelAngle": -30,
                "labelAlign": "right",
                "labelBaseline": "middle",
                "labelPadding": 9,
                "labelOffset": 3,
                "labelOverlap": false,
                "labelFlush": false,
                "ticks": false,
                "grid": false,
                "domainColor": "#5b6579",
                "domainWidth": 1.2,
                "labelFont": "Liberation Sans",
                "labelFontSize": 9.5,
                "labelColor": "#44546a",
                "title": null
              }
            },
            "y": {
              "field": "bdti",
              "type": "quantitative",
              "scale": {"domain": [400, 2000], "range": [263, 35], "nice": false, "zero": false},
              "axis": {
                "orient": "left",
                "offset": -38.5,
                "values": [400, 600, 800, 1000, 1200, 1400, 1600, 1800, 2000],
                "format": "d",
                "grid": false,
                "ticks": false,
                "domainColor": "#5b6579",
                "domainWidth": 1.2,
                "labelPadding": 5,
                "labelFont": "Liberation Sans",
                "labelFontSize": 10,
                "labelColor": "#44546a",
                "title": null
              }
            }
          }
        },
        {
          "data": {"name": "model"},
          "mark": {
            "type": "line",
            "interpolate": "monotone",
            "strokeWidth": 2.6,
            "stroke": {
              "gradient": "linear", "x1": 0, "y1": 0, "x2": 1, "y2": 0,
              "stops": [
                {"offset": 0, "color": "#233f73"},
                {"offset": 0.15, "color": "#2d4f8e"},
                {"offset": 0.35, "color": "#4a74c4"},
                {"offset": 0.52, "color": "#8eaadc"},
                {"offset": 0.68, "color": "#4a72c2"},
                {"offset": 0.86, "color": "#34579f"},
                {"offset": 1, "color": "#233f73"}
              ]
            }
          },
          "encoding": {
            "x": {
              "field": "date",
              "type": "temporal",
              "scale": {"domain": [{"year": 2015, "month": 1, "date": 1}, {"year": 2020, "month": 2, "date": 16}], "range": [38.5, 675]}
            },
            "y": {
              "field": "rate",
              "type": "quantitative",
              "scale": {"domain": [24.5, 31.5], "range": [263, 35], "nice": false, "zero": false},
              "axis": {
                "orient": "right",
                "offset": -42,
                "values": [24.5, 25.5, 26.5, 27.5, 28.5, 29.5, 30.5, 31.5],
                "labelExpr": "format(datum.value, '.2f') + '%'",
                "grid": false,
                "ticks": false,
                "domainColor": "#5b6579",
                "domainWidth": 1.2,
                "labelPadding": 7,
                "labelFont": "Liberation Sans",
                "labelFontSize": 9,
                "labelColor": "#44546a",
                "title": null
              }
            }
          }
        },
        {
          "data": {"values": [{"series": "BDTI"}, {"series": "国金独家运力利用率模型（右轴）"}]},
          "mark": {"type": "line", "opacity": 0},
          "encoding": {
            "x": {"datum": {"year": 2017, "month": 1, "date": 1}, "type": "temporal"},
            "y": {"datum": 1000, "type": "quantitative", "axis": null},
            "stroke": {
              "field": "series",
              "type": "nominal",
              "scale": {"domain": ["BDTI", "国金独家运力利用率模型（右轴）"], "range": ["#d0681f", "#2f4f8f"]},
              "legend": {
                "orient": "none",
                "legendX": 241,
                "legendY": 780,
                "direction": "horizontal",
                "title": null,
                "symbolType": "stroke",
                "symbolStrokeWidth": 3,
                "symbolSize": 484,
                "symbolOpacity": 1,
                "labelFont": "Noto Sans CJK SC",
                "labelFontSize": 10,
                "labelColor": "#44546a",
                "labelLimit": 300,
                "labelOffset": 3,
                "columnPadding": 14
              }
            }
          }
        }
      ],
      "resolve": {"scale": {"y": "independent"}}
    },
    {
      "width": 726,
      "height": 40,
      "data": {"values": [{}]},
      "mark": {"type": "rule", "opacity": 0},
      "encoding": {
        "y": {
          "datum": 0,
          "type": "quantitative",
          "scale": {"domain": [0, 40], "nice": false, "zero": false},
          "axis": {
            "values": [26],
            "grid": true,
            "gridColor": "#56b2da",
            "gridWidth": 2,
            "domain": false,
            "ticks": false,
            "labels": false,
            "title": "来源：AIS, Clipperdata, US Import Bill, 各国港口数据，国金证券研究所",
            "titleAngle": 0,
            "titleX": 3,
            "titleY": 24,
            "titleAlign": "left",
            "titleBaseline": "middle",
            "titleFont": "Noto Sans CJK SC",
            "titleFontSize": 9.5,
            "titleFontWeight": "normal",
            "titleColor": "#333333"
          }
        }
      }
    }
  ]
}
